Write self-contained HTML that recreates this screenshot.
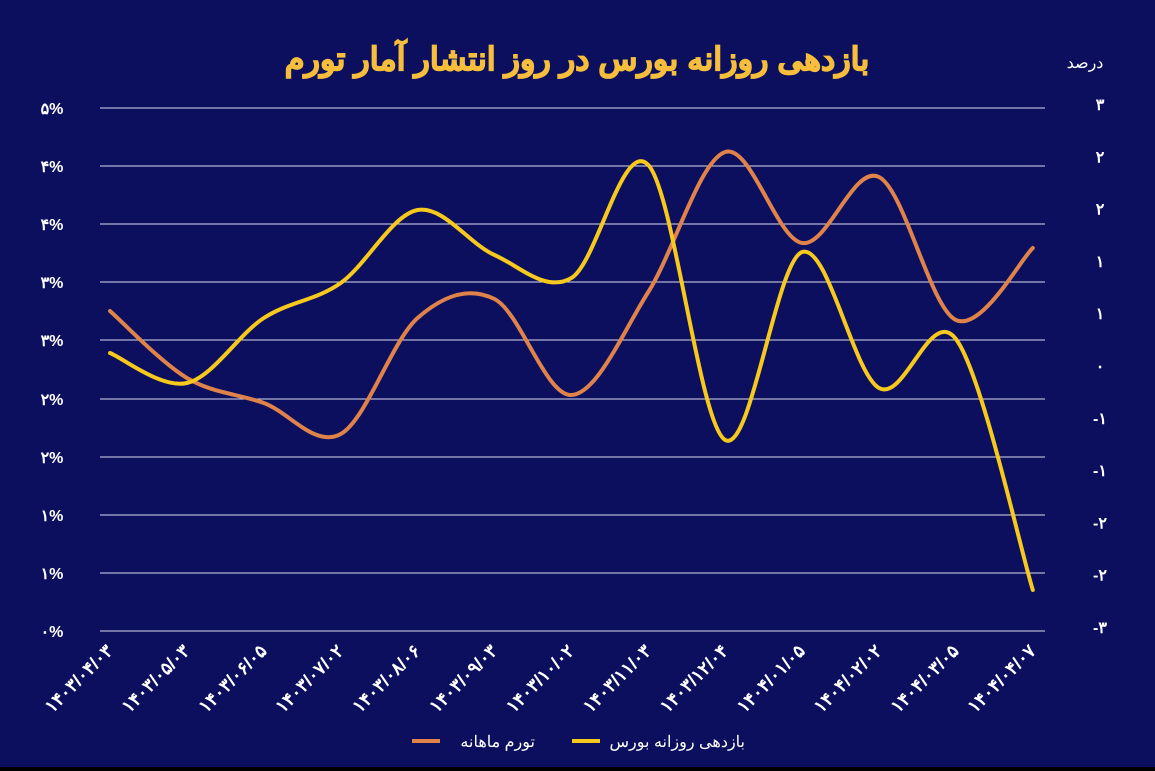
<!DOCTYPE html>
<html><head><meta charset="utf-8">
<style>
html,body{margin:0;padding:0;background:#000;}
svg{display:block;}
text{font-family:"Liberation Sans","Noto Sans CJK SC",sans-serif;}
</style></head>
<body>
<svg id="s" width="1155" height="771" xmlns="http://www.w3.org/2000/svg">
<rect x="0" y="0" width="1155" height="767" fill="#0b0f5e"/>
<text x="577" y="70" text-anchor="middle" font-size="32" font-weight="bold" fill="#f6be3a" stroke="#f6be3a" stroke-width="1.2" direction="rtl" font-family="DejaVu Sans, sans-serif">بازدهی روزانه بورس در روز انتشار آمار تورم</text>
<text x="1085" y="68" text-anchor="middle" font-size="16" fill="#fff" font-family="DejaVu Sans, sans-serif">درصد</text>
<g id="grid" stroke="#d8dbee" stroke-width="1"></g>
<g id="ll" fill="#fff" font-size="16" font-weight="bold"></g>
<g id="rl" fill="#fff" font-size="16" font-weight="bold"></g>
<g id="xl" fill="#fff" font-size="18" font-weight="bold"></g>
<path id="po" fill="none" stroke="#e0834a" stroke-width="4" stroke-linecap="round"/>
<path id="py" fill="none" stroke="#f7c91c" stroke-width="4" stroke-linecap="round"/>
<line x1="412" y1="741" x2="440" y2="741" stroke="#e0834a" stroke-width="4"/>
<text x="535" y="747" text-anchor="end" font-size="16" fill="#fff" font-family="DejaVu Sans, sans-serif">تورم ماهانه</text>
<line x1="572" y1="741" x2="600" y2="741" stroke="#f7c91c" stroke-width="4"/>
<text x="745" y="747" text-anchor="end" font-size="16" fill="#fff" font-family="DejaVu Sans, sans-serif">بازدهی روزانه بورس</text>
</svg>
<script>
var NS="http://www.w3.org/2000/svg";
function el(p,t,a,txt){var e=document.createElementNS(NS,t);for(var k in a)e.setAttribute(k,a[k]);if(txt!=null)e.textContent=txt;document.getElementById(p).appendChild(e);return e;}
var gy=[108,166,224,282,340,399,457,515,573,631];
var ll=["۵%","۴%","۴%","۳%","۳%","۲%","۲%","۱%","۱%","۰%"];
gy.forEach(function(y,i){el("grid","line",{x1:100,x2:1045,y1:y,y2:y});el("ll","text",{x:52,y:y+6,"text-anchor":"middle"},ll[i]);});
var rl=["۳","۲","۲","۱","۱","۰","-۱","-۱","-۲","-۲","-۳"];
rl.forEach(function(t,i){el("rl","text",{x:1100,y:110+i*52.3,"text-anchor":"middle"},t);});
var xs=[];for(var i=0;i<13;i++)xs.push(110+i*76.9);
var labs=["۱۴۰۳/۰۴/۰۳","۱۴۰۳/۰۵/۰۳","۱۴۰۳/۰۶/۰۵","۱۴۰۳/۰۷/۰۲","۱۴۰۳/۰۸/۰۶","۱۴۰۳/۰۹/۰۳","۱۴۰۳/۱۰/۰۲","۱۴۰۳/۱۱/۰۳","۱۴۰۳/۱۲/۰۴","۱۴۰۴/۰۱/۰۵","۱۴۰۴/۰۲/۰۲","۱۴۰۴/۰۳/۰۵","۱۴۰۴/۰۴/۰۷"];
labs.forEach(function(t,i){var x=xs[i]+4,y=652;el("xl","text",{x:x,y:y,"text-anchor":"end",direction:"ltr",transform:"rotate(-45 "+x+" "+y+")"},t);});
var o=[311,378,403,434,318,299,395,292,152,243,177,320,248];
var yy=[353,383,318,283,210,255,278,165,440,252,388,339,590];
function path(v){var p=v.map(function(y,i){return [xs[i],y];});var d="M"+p[0][0]+","+p[0][1];
for(var i=0;i<p.length-1;i++){var p0=p[i-1]||p[i],p1=p[i],p2=p[i+1],p3=p[i+2]||p[i+1];
var c1=[p1[0]+(p2[0]-p0[0])/6,p1[1]+(p2[1]-p0[1])/6],c2=[p2[0]-(p3[0]-p1[0])/6,p2[1]-(p3[1]-p1[1])/6];
d+=" C"+c1.join(",")+" "+c2.join(",")+" "+p2.join(",");}return d;}
document.getElementById("po").setAttribute("d",path(o));
document.getElementById("py").setAttribute("d",path(yy));
</script>
</body></html>
